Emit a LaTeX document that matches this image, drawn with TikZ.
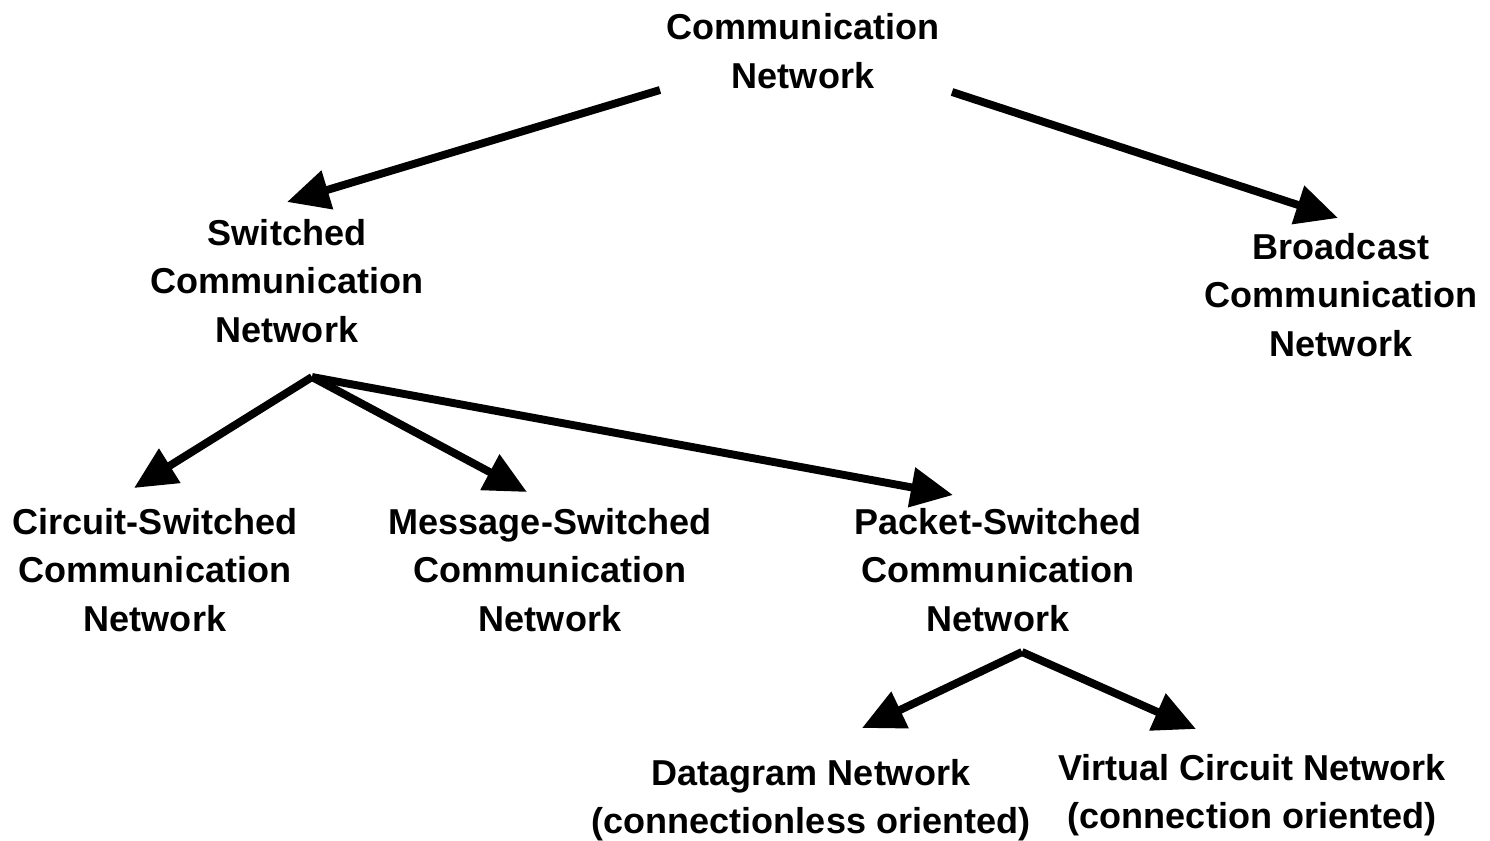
\documentclass[tikz,border=0pt]{standalone}
\usepackage{fontspec}
\setmainfont{Liberation Sans}
\usetikzlibrary{arrows.meta}

\begin{document}
\begin{tikzpicture}[x=0.02cm, y=-0.02cm,
    semithick,
    net/.style={align=center, inner sep=0pt,
    font=\fontsize{20.5}{27.5}\selectfont\bfseries},
    link/.style={line width=4.5pt, line cap=butt,
    -{Triangle[length=24pt,width=22pt]}}
    ]
\useasboundingbox (0,0) rectangle (1490,840);

\node[net] (CN) at (803,51) {Communication\\Network};
\node[net] (SW) at (287,281) {Switched\\Communication\\Network};
\node[net] (BC) at (1341,295) {Broadcast\\Communication\\Network};
\node[net] (CS) at (155,570) {Circuit-Switched\\Communication\\Network};
\node[net] (MS) at (550,570) {Message-Switched\\Communication\\Network};
\node[net] (PS) at (998,570) {Packet-Switched\\Communication\\Network};
\node[net] (DG) at (811,800) {Datagram Network\\(connectionless oriented)};
\node[net] (VC) at (1252,795) {Virtual Circuit Network\\(connection oriented)};

\coordinate (SWfork) at ([shift={(25,96)}]SW.center);
\coordinate (PSfork) at ([shift={(24,82)}]PS.center);

\draw[link] ([shift={(-143,39)}]CN.center) -- ([shift={(0,-79)}]SW.center);
\draw[link] ([shift={(149,41)}]CN.center) -- ([shift={(-3,-77)}]BC.center);
\draw[link] (SWfork) -- ([shift={(-21,-82)}]CS.center);
\draw[link] (SWfork) -- ([shift={(-23,-78)}]MS.center);
\draw[link] (SWfork) -- ([shift={(-45,-75)}]PS.center);
\draw[link] (PSfork) -- ([shift={(51,-72)}]DG.center);
\draw[link] (PSfork) -- ([shift={(-56,-66)}]VC.center);
\end{tikzpicture}
\end{document}
